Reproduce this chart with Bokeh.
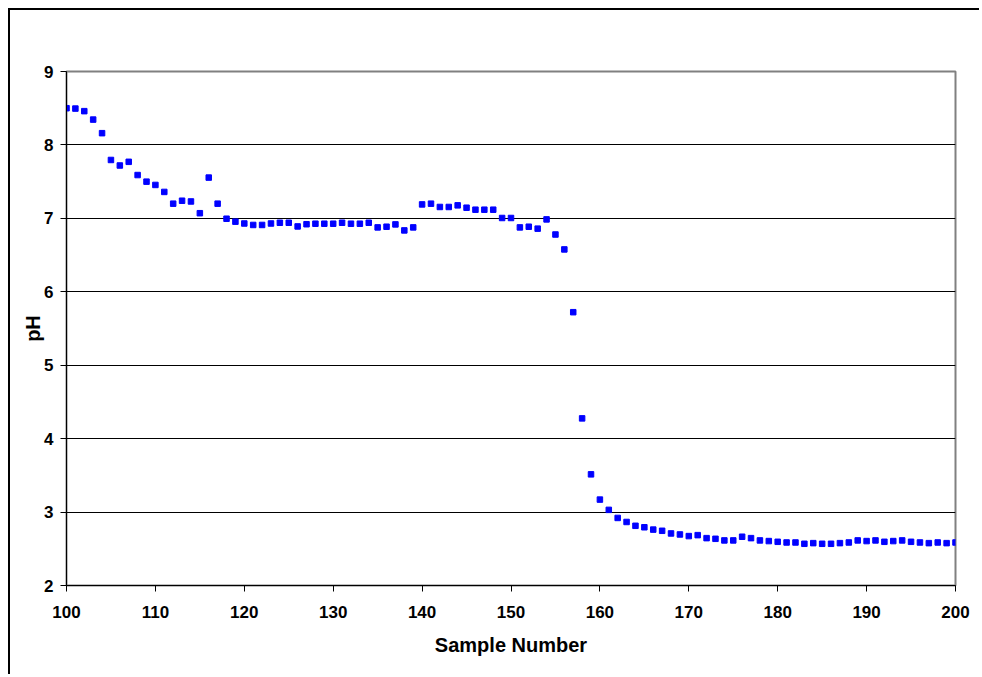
from bokeh.plotting import figure
from bokeh.models import FixedTicker, Range1d
from bokeh.embed import file_html
from bokeh.resources import INLINE

sample_number = list(range(100, 201))
ph = [
    8.50, 8.495, 8.46, 8.345, 8.16, 7.795, 7.72, 7.77, 7.59, 7.50,
    7.455, 7.36, 7.20, 7.24, 7.23, 7.07, 7.555, 7.20, 6.995, 6.955,
    6.93, 6.91, 6.91, 6.93, 6.94, 6.94, 6.89, 6.92, 6.927, 6.927,
    6.927, 6.94, 6.927, 6.927, 6.94, 6.877, 6.886, 6.918, 6.836, 6.877,
    7.19, 7.20, 7.155, 7.155, 7.177, 7.145, 7.118, 7.118, 7.118, 7.005,
    7.005, 6.877, 6.886, 6.86, 6.986, 6.78, 6.577, 5.722, 4.276, 3.514,
    3.17, 3.03, 2.92, 2.865, 2.813, 2.793, 2.761, 2.745, 2.709, 2.695,
    2.673, 2.686, 2.645, 2.636, 2.614, 2.614, 2.664, 2.645, 2.614, 2.605,
    2.595, 2.586, 2.586, 2.568, 2.577, 2.568, 2.568, 2.577, 2.586, 2.614,
    2.605, 2.614, 2.595, 2.605, 2.614, 2.595, 2.586, 2.577, 2.586, 2.577,
    2.586,
]
x_ticks = list(range(100, 201, 10))
y_ticks = [2, 3, 4, 5, 6, 7, 8, 9]

FONT = "Liberation Sans"

p = figure(width=971, height=666, output_backend="svg", toolbar_location=None,
           x_range=Range1d(100, 200), y_range=Range1d(2, 9),
           min_border_left=56, min_border_top=61, min_border_right=26, min_border_bottom=91)
p.styles = {"margin-left": "8px", "margin-top": "8px",
            "border-top": "2px solid black", "border-left": "2px solid black"}

p.outline_line_color = "#808080"
p.outline_line_width = 2
p.background_fill_color = "white"
p.border_fill_color = "white"

p.xgrid.visible = False
p.ygrid.grid_line_color = "black"
p.ygrid.grid_line_width = 1
p.ygrid.ticker = FixedTicker(ticks=[3, 4, 5, 6, 7, 8])

p.xaxis.ticker = FixedTicker(ticks=x_ticks)
p.yaxis.ticker = FixedTicker(ticks=y_ticks)
for ax in (p.xaxis[0], p.yaxis[0]):
    ax.axis_line_color = "black"
    ax.axis_line_width = 1
    ax.major_tick_line_color = "black"
    ax.major_tick_in = 0
    ax.major_tick_out = 6
    ax.minor_tick_line_color = None
    ax.major_label_text_font = FONT
    ax.major_label_text_font_style = "bold"
    ax.major_label_text_font_size = "17px"
    ax.major_label_text_color = "black"
    ax.axis_label_text_font = FONT
    ax.axis_label_text_font_style = "bold"
    ax.axis_label_text_font_size = "20px"
    ax.axis_label_text_color = "black"

p.xaxis.axis_label = "Sample Number"
p.yaxis.axis_label = "pH"
p.xaxis.major_label_standoff = 14
p.yaxis.major_label_standoff = 7
p.xaxis.axis_label_standoff = 13
p.yaxis.axis_label_standoff = -3

p.scatter(sample_number, ph, marker="square", size=5.5, color="#0000FF")

open("out.html", "w").write(file_html(p, INLINE))
